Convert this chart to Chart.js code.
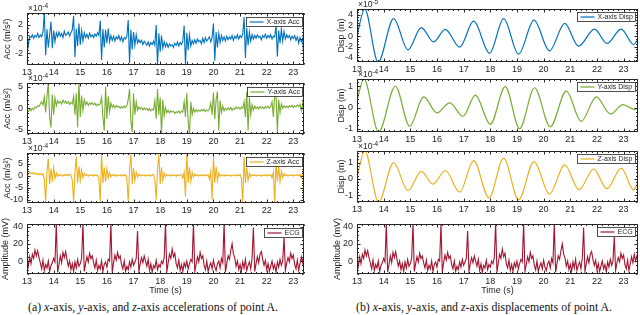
<!DOCTYPE html>
<html>
<head>
<meta charset="utf-8">
<script src="https://cdn.jsdelivr.net/npm/chart.js@4.4.1/dist/chart.umd.min.js"></script>
<style>
  html, body { margin:0; padding:0; background:#fff; }
  #fig { position:relative; width:640px; height:315px; overflow:hidden; background:#fff; }
  #fig canvas { position:absolute; }
  .cap { position:absolute; top:300px; width:340px; text-align:center; font:11.8px "Liberation Serif", serif; color:#111; white-space:nowrap; line-height:14px; }
</style>
</head>
<body>
<div id="fig">
  <div class="cap" style="left:-17px">(a) <i>x</i>-axis, <i>y</i>-axis, and <i>z</i>-axis accelerations of point A.</div>
  <div class="cap" style="left:314px">(b) <i>x</i>-axis, <i>y</i>-axis, and <i>z</i>-axis displacements of point A.</div>
</div>
<script>
// ---- data -------------------------------------------------------------
// recorded signals are sampled every DT seconds starting at T0
const T0 = 13, DT = 0.05;
const X_TICKS = [13, 14, 15, 16, 17, 18, 19, 20, 21, 22, 23];

// accelerations (x1e-4 m/s^2)
const accX = [
  0.6,-0.9,0.4,0.2,0.6,0.1,0.5,0.3,0.8,0.2,
  0.6,0.3,1.0,3.8,-2.3,1.4,-1.2,0.6,2.5,-1.3,
  1.2,-0.4,0.9,0.3,1.0,0.4,0.8,0.2,1.1,0.5,
  0.7,1.0,0.4,0.9,1.3,3.3,-2.6,1.5,-1.0,2.2,
  -0.8,1.2,-0.3,0.9,0.2,0.7,0.1,0.8,0.3,0.6,
  0.2,0.7,0.4,0.9,0.5,2.6,-3.0,1.4,-1.2,1.3,
  -0.6,1.5,-0.4,0.5,-0.2,0.4,-0.3,0.3,0.0,0.5,
  -0.2,0.3,-0.4,0.2,0.0,0.4,2.7,-3.4,1.3,-1.5,
  1.0,-0.9,0.6,-0.6,-0.1,-0.5,-0.2,-0.8,-0.3,-0.6,
  -0.9,-0.4,-1.0,-0.5,-0.8,-0.3,-0.9,2.0,-3.8,0.8,
  -1.8,0.5,-1.3,-0.4,-1.1,-0.6,-1.2,-0.7,-1.0,-0.8,
  -1.2,-0.6,-0.9,-0.4,-1.0,-0.5,-0.8,-0.3,1.9,-3.7,
  0.9,-1.6,0.6,-1.0,-0.2,-0.7,-0.1,-0.6,0.0,-0.4,
  -0.2,-0.7,0.1,-0.5,0.2,-0.3,0.0,0.3,-0.4,0.2,
  2.2,-3.1,1.0,-1.2,0.8,-0.5,0.5,-0.2,0.3,-0.3,
  0.4,-0.1,0.3,0.0,0.5,-0.2,0.4,0.1,0.6,0.0,
  0.5,0.2,0.7,3.1,-2.7,1.6,-0.9,1.0,-0.3,0.6,
  0.0,0.5,0.1,0.6,0.2,0.4,-0.1,0.5,0.2,0.7,
  0.1,0.5,0.2,0.6,0.0,0.4,0.3,2.0,-2.5,1.2,
  -0.6,1.4,-0.3,1.1,0.0,0.6,0.2,0.5,-0.1,0.4,
  0.1,0.5,-0.2,0.3,-0.6,0.2,-0.4,0.1,-2.8,3.0
];
const accY = [
  -0.5,-0.8,-0.2,-0.6,0.0,-0.3,0.3,0.1,0.6,0.4,
  1.0,1.5,0.8,2.6,-1.0,2.8,6.0,-2.0,-4.5,3.2,
  -1.5,2.4,0.6,1.8,1.2,1.6,1.0,1.9,1.3,1.7,
  1.1,1.5,0.9,1.4,1.0,2.8,-1.5,3.5,-4.5,6.0,
  -2.0,3.0,-0.5,2.0,0.8,1.5,0.7,1.2,0.9,1.3,
  0.8,1.2,0.6,1.0,0.7,1.1,2.5,-2.0,-5.2,5.0,
  -2.5,2.8,-0.8,1.2,0.2,0.8,0.1,0.6,0.3,0.5,
  0.0,0.4,0.1,0.5,0.2,0.6,2.0,4.5,-3.0,-5.5,
  3.5,-1.5,1.5,-0.5,0.3,-0.2,0.2,-0.4,0.1,-0.3,
  0.0,-0.5,-0.1,-0.6,-0.2,-0.4,1.8,-2.5,4.5,-1.5,
  2.5,-5.8,2.0,-1.8,0.2,-1.0,-0.5,-1.1,-0.6,-0.9,
  -0.7,-1.2,-0.8,-1.0,-0.6,-1.1,-0.7,-0.9,1.5,-2.0,
  3.5,-3.0,-6.0,1.5,-1.5,0.0,-0.9,-0.3,-0.8,-0.4,
  -0.7,-0.3,-0.6,-0.2,-0.8,-0.4,-0.6,-0.1,1.2,-1.5,
  3.7,-2.5,2.0,3.9,-5.2,1.8,-1.0,0.5,-0.6,0.0,
  -0.4,0.1,-0.3,0.2,-0.5,0.0,-0.2,0.3,-0.1,0.2,
  -0.2,0.3,0.0,1.5,-2.0,3.8,-5.2,2.5,-1.5,0.8,
  -0.4,0.5,-0.1,0.3,-0.2,0.4,0.0,0.3,-0.1,0.4,
  0.1,0.5,0.0,0.4,1.5,-2.0,2.8,3.5,-5.5,2.0,
  -1.0,1.0,0.0,0.6,0.2,0.5,0.1,0.6,0.3,0.7,
  0.2,0.6,0.3,0.8,0.4,0.9,-0.5,1.2,-2.0,3.1
];
const accZ = [
  1.2,0.6,1.5,0.8,1.3,0.7,1.1,0.5,1.0,0.4,
  0.9,0.3,0.8,-1.5,-11.0,2.0,7.0,-3.5,3.0,-2.5,
  3.5,-1.2,1.2,-0.3,0.6,0.0,0.5,-0.2,0.4,0.1,
  0.5,0.0,0.6,0.2,-1.8,-11.0,1.5,8.0,-3.0,3.8,
  -2.0,2.5,-0.8,1.0,0.0,0.5,-0.2,0.4,0.0,0.3,
  -0.1,0.4,0.0,0.3,-1.5,-11.0,9.3,-3.0,3.5,-2.5,
  3.0,-1.0,1.2,-0.4,0.5,0.0,0.4,-0.2,0.3,0.0,
  0.4,-0.1,0.3,0.0,0.5,-1.2,-10.5,2.0,9.0,-3.5,
  3.2,-2.0,1.5,-0.5,0.6,-0.1,0.4,0.0,0.3,-0.2,
  0.3,0.0,0.4,-0.1,0.3,0.6,-1.8,-10.0,2.5,9.0,
  -3.5,3.5,-2.0,1.2,-0.4,0.5,0.0,0.3,-0.1,0.4,
  0.0,0.3,-0.2,0.4,0.0,0.3,0.5,-1.0,1.5,-8.7,
  9.3,-3.0,3.5,-2.5,1.5,-0.5,0.6,0.0,0.4,-0.1,
  0.3,0.0,0.4,-0.1,0.3,0.0,0.5,-1.5,1.8,-10.0,
  7.9,-3.0,3.8,-2.0,1.2,-0.3,0.5,0.0,0.3,-0.1,
  0.4,0.0,0.3,-0.2,0.3,0.1,0.4,-0.1,0.3,0.0,
  0.5,-1.2,-11.2,7.9,-3.0,3.5,-2.0,1.0,-0.4,0.5,
  0.0,0.4,-0.1,0.3,0.0,0.4,-0.2,0.3,0.0,0.4,
  -0.1,0.3,0.0,0.5,-1.0,1.5,-11.5,6.5,-2.5,4.0,
  -2.5,2.0,-0.8,0.8,0.0,0.4,-0.1,0.3,0.0,0.4,
  -0.1,0.3,0.1,0.4,0.0,0.5,-0.8,1.2,-11.0,9.0
];

// ECG (mV), same record under both columns
const ecg = [
  2,-6,5,-3,8,3,13,6,12,4,
  -2,-9,1,-11,-4,-8,0,-12,-5,-2,
  3,-1,44,-13,-4,6,-2,10,4,11,
  2,-6,0,-10,-3,-12,-1,-8,2,-6,
  -3,3,44,-12,-3,5,-1,9,3,6,
  -2,-8,1,-11,-5,-9,0,-12,-4,-1,
  -7,2,0,44,-13,-2,7,1,10,3,
  6,-4,-9,0,-12,-6,-10,-1,-7,2,
  -5,-1,3,35,-12,-3,4,-2,6,0,
  -6,2,-11,-3,-13,-5,-8,1,-10,-4,
  -7,0,-3,4,44,-13,-2,8,3,14,
  5,9,-3,-8,1,-11,-4,-12,-2,-7,
  0,-9,-3,2,-1,44,-12,-4,5,-1,
  10,3,6,-5,-10,0,-12,-6,-2,-9,
  1,-7,-11,-3,0,-8,3,-2,44,-13,
  -3,6,2,12,20,8,4,-6,0,-10,
  -4,-12,-1,-8,2,-11,-5,-1,-9,3,
  39,-12,-3,5,-2,8,11,2,-5,1,
  -10,-3,-12,-6,0,-9,-4,-13,-1,-7,
  2,-5,0,28,-11,-2,4,-1,9,3,
  7,-4,-9,1,-11,-3,5,-2,8,0,
  6,-3
];

// displacements: turning points (time s, value)
const dispXTimes = [13.0,13.29,13.79,14.375,14.91,15.41,15.875,16.31,16.85,17.375,17.975,18.5,19.06,19.64,20.22,20.79,21.31,21.91,22.375,22.91,23.375,23.56];
const dispXVals  = [0.2,5.1,-4.9,3.3,-2.6,1.6,-1.1,1.25,-2.1,2.8,-3.25,3.3,-3.4,3.0,-2.8,2.4,-1.9,1.3,-1.4,1.3,-1.6,-0.4];      // x1e-5 m
const dispYTimes = [13.0,13.26,13.81,14.44,14.975,15.5,16.0,16.475,16.975,17.44,18.0,18.56,19.1,19.66,20.25,20.85,21.41,21.975,22.51,22.975,23.41,23.56];
const dispYVals  = [0.35,1.34,-1.15,1.0,-0.88,0.5,-0.25,0.22,-0.41,0.58,-0.79,0.98,-0.99,0.93,-0.91,0.77,-0.65,0.5,-0.31,0.14,-0.09,-0.02]; // x1e-4 m
const dispZTimes = [13.0,13.29,13.81,14.375,14.91,15.41,15.85,16.31,16.85,17.375,17.95,18.5,19.06,19.64,20.22,20.79,21.325,21.875,22.375,22.91,23.375,23.56];
const dispZVals  = [0.14,1.71,-1.43,1.0,-0.73,0.45,-0.33,0.51,-0.82,1.12,-1.18,1.27,-1.29,1.06,-0.94,0.86,-0.67,0.59,-0.61,0.65,-0.67,-0.2];  // x1e-4 m

// ---- style --------------------------------------------------------------
const BLUE = '#0072BD', GREEN = '#77AC30', YELLOW = '#EDB120', RED = '#A2142F';
const INK = '#262626';
const FONT = '"Liberation Sans", Arial, Helvetica, sans-serif';
Chart.defaults.font.family = FONT;

const sampled = vals => vals.map((v, i) => ({ x: T0 + i * DT, y: v }));
const paired = (ts, vs) => ts.map((t, i) => ({ x: t, y: vs[i] }));

// MATLAB-like box: frame, inward ticks, x10^n note, boxed legend
const matlabBox = {
  id: 'matlabBox',
  afterDatasetsDraw(chart, args, o) {
    const { ctx, chartArea: a, scales: { x, y } } = chart;
    const L = Math.round(a.left) + 0.5, R = Math.round(a.right) - 0.5;
    const T = Math.round(a.top) + 0.5, B = Math.round(a.bottom) - 0.5;
    ctx.save();
    ctx.strokeStyle = INK;
    ctx.lineWidth = 1;
    ctx.beginPath();
    const tx = (v, len) => {
      const p = Math.round(x.getPixelForValue(v)) + 0.5;
      ctx.moveTo(p, B); ctx.lineTo(p, B - len);
      ctx.moveTo(p, T); ctx.lineTo(p, T + len);
    };
    const ty = (v, len) => {
      const p = Math.round(y.getPixelForValue(v)) + 0.5;
      ctx.moveTo(L, p); ctx.lineTo(L + len, p);
      ctx.moveTo(R, p); ctx.lineTo(R - len, p);
    };
    for (let k = Math.ceil(x.min / 0.2); k * 0.2 <= x.max + 1e-9; k++) tx(Math.round(k * 200) / 1000, 1.5);
    X_TICKS.forEach(v => tx(v, 3));
    for (let k = Math.ceil(y.min / o.yMinor); k * o.yMinor <= y.max + 1e-9; k++) ty(k * o.yMinor, 1.5);
    o.yTicks.forEach(v => ty(v, 3));
    ctx.stroke();
    ctx.strokeRect(L, T, R - L, B - T);

    ctx.fillStyle = INK;
    ctx.textAlign = 'left';
    if (o.exp) {
      ctx.textBaseline = 'alphabetic';
      ctx.font = `8.5px ${FONT}`;
      ctx.fillText('\u00d710', a.left + 1, a.top - 2);
      const w = ctx.measureText('\u00d710').width;
      ctx.font = `6.5px ${FONT}`;
      ctx.fillText(o.exp, a.left + 1 + w, a.top - 5.5);
    }

    ctx.font = `7px ${FONT}`;
    const tw = ctx.measureText(o.label).width;
    const bw = Math.round(3 + 14 + 3 + tw + 3), bh = 9;
    const bx = Math.round(a.right - o.legR - bw) + 0.5, by = Math.round(a.top + o.legT) + 0.5;
    ctx.fillStyle = '#fff';
    ctx.fillRect(bx, by, bw, bh);
    ctx.strokeStyle = INK;
    ctx.lineWidth = 0.8;
    ctx.strokeRect(bx, by, bw, bh);
    ctx.strokeStyle = o.color;
    ctx.lineWidth = 1.2;
    ctx.beginPath();
    ctx.moveTo(bx + 3, by + bh / 2); ctx.lineTo(bx + 17, by + bh / 2);
    ctx.stroke();
    ctx.fillStyle = INK;
    ctx.textBaseline = 'middle';
    ctx.fillText(o.label, bx + 20, by + bh / 2 + 0.5);
    ctx.restore();
  }
};

const LEFT = { cx: 0, yW: 27, right: 304, padR: 3, xMax: 23.4, legR: 2, legT: 3.5 };
const RIGHT = { cx: 322, yW: 35, right: 638, padR: 2, xMax: 23.54, legR: 3, legT: 2.5 };

const panels = [
  { ...LEFT, pt: 13, pb: 65, points: sampled(accX), color: BLUE, yMin: -3.7, yMax: 3.7, yTicks: [-2, 0, 2], yMinor: 0.5, title: 'Acc (m/s\u00b2)', tPad: 2.5, exp: '-4', label: 'X-axis Acc' },
  { ...LEFT, pt: 83, pb: 134, points: sampled(accY), color: GREEN, yMin: -6, yMax: 5.9, yTicks: [-5, 0, 5], yMinor: 1, title: 'Acc (m/s\u00b2)', tPad: 2.5, exp: '-4', label: 'Y-axis Acc' },
  { ...LEFT, pt: 153, pb: 203, points: sampled(accZ), color: YELLOW, yMin: -11.4, yMax: 9.5, yTicks: [-10, -5, 0, 5], yMinor: 1, title: 'Acc (m/s\u00b2)', tPad: 2.5, exp: '-4', label: 'Z-axis Acc' },
  { ...LEFT, pt: 224, pb: 274, points: sampled(ecg), color: RED, yMin: -15, yMax: 43, yTicks: [0, 20, 40], yMinor: 5, title: 'Amplitude (mV)', tPad: 0, label: 'ECG', bottom: true },
  { ...RIGHT, pt: 9, pb: 62, points: paired(dispXTimes, dispXVals), smooth: true, color: BLUE, yMin: -4.9, yMax: 5.1, yTicks: [-4, -2, 0, 2, 4], yMinor: 0.5, title: 'Disp (m)', tPad: 14, exp: '-5', label: 'X-axis Disp' },
  { ...RIGHT, pt: 79, pb: 132, points: paired(dispYTimes, dispYVals), smooth: true, color: GREEN, yMin: -1.15, yMax: 1.34, yTicks: [-1, 0, 1], yMinor: 0.2, title: 'Disp (m)', tPad: 14, exp: '-4', label: 'Y-axis Disp' },
  { ...RIGHT, pt: 151, pb: 202, points: paired(dispZTimes, dispZVals), smooth: true, color: YELLOW, yMin: -1.43, yMax: 1.71, yTicks: [-1, 0, 1], yMinor: 0.2, title: 'Disp (m)', tPad: 14, exp: '-4', label: 'Z-axis Disp' },
  { ...RIGHT, pt: 224, pb: 274, points: sampled(ecg), color: RED, yMin: -15, yMax: 43, yTicks: [0, 20, 40], yMinor: 5, title: 'Amplitude (mV)', tPad: 10.5, label: 'ECG', bottom: true }
];

const fig = document.getElementById('fig');
const tickFont = { size: 9 };

panels.forEach(p => {
  const padT = 13;
  const xH = p.bottom ? 28 : 14;
  const w = p.right + p.padR - p.cx;
  const h = padT + (p.pb - p.pt) + xH;
  const cv = document.createElement('canvas');
  cv.width = w; cv.height = h;
  cv.style.left = p.cx + 'px';
  cv.style.top = (p.pt - padT) + 'px';
  cv.style.width = w + 'px';
  cv.style.height = h + 'px';
  fig.appendChild(cv);

  new Chart(cv, {
    type: 'line',
    data: {
      datasets: [{
        data: p.points,
        borderColor: p.color,
        borderWidth: p.smooth ? 1.2 : 1.1,
        pointRadius: 0,
        fill: false,
        tension: p.smooth ? 0.4 : 0,
        cubicInterpolationMode: p.smooth ? 'monotone' : 'default'
      }]
    },
    options: {
      responsive: false,
      animation: false,
      devicePixelRatio: 1,
      events: [],
      layout: { padding: { left: 0, top: padT, right: p.padR, bottom: 0 } },
      plugins: {
        legend: { display: false },
        tooltip: { enabled: false },
        matlabBox: { yTicks: p.yTicks, yMinor: p.yMinor, exp: p.exp, label: p.label, color: p.color, legR: p.legR, legT: p.legT }
      },
      scales: {
        x: {
          type: 'linear', min: 13, max: p.xMax,
          afterBuildTicks: s => { s.ticks = X_TICKS.map(v => ({ value: v })); },
          afterFit: s => { s.height = xH; },
          grid: { display: false, drawTicks: false },
          border: { display: false },
          ticks: { padding: 2.5, color: INK, font: tickFont, autoSkip: false, maxRotation: 0, callback: v => String(v) },
          title: p.bottom
            ? { display: true, text: 'Time (s)', color: INK, font: { size: 9 }, padding: { top: 0, bottom: 6.5 } }
            : { display: false }
        },
        y: {
          type: 'linear', min: p.yMin, max: p.yMax,
          afterBuildTicks: s => { s.ticks = p.yTicks.map(v => ({ value: v })); },
          afterFit: s => { s.width = p.yW; },
          grid: { display: false, drawTicks: false },
          border: { display: false },
          ticks: { padding: 4, color: INK, font: tickFont, autoSkip: false, callback: v => String(v) },
          title: { display: true, text: p.title, color: INK, font: { size: 9 }, padding: { top: p.tPad, bottom: 0 } }
        }
      }
    },
    plugins: [matlabBox]
  });
});
</script>
</body>
</html>
